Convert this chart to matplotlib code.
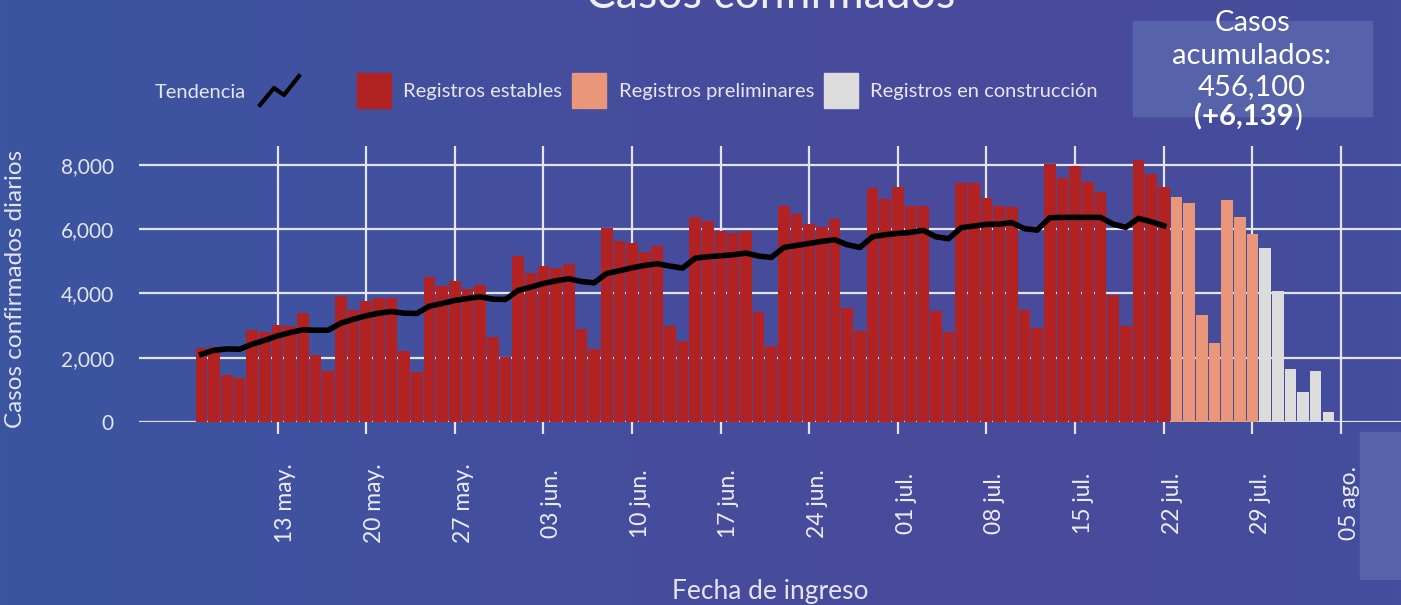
import numpy as np
import pandas as pd
import matplotlib
matplotlib.use("Agg")
import matplotlib.pyplot as plt
import matplotlib.dates as mdates
from matplotlib.patches import Rectangle
from matplotlib.lines import Line2D
from matplotlib.colors import LinearSegmentedColormap
from matplotlib.transforms import ScaledTranslation

plt.rcParams['font.family'] = ['Lato', 'DejaVu Sans']

# daily confirmed cases, by admission date
estables = [2310, 2320, 1455, 1370, 2857, 2795, 3034, 2982, 3377, 2099, 1600, 3927, 3481,
            3761, 3865, 3865, 2213, 1558, 4509, 4239, 4374, 4135, 4249, 2660, 2026,
            5164, 4623, 4852, 4800, 4914, 2888, 2265, 6026, 5631, 5569, 5288, 5475, 2982,
            2514, 6379, 6255, 5943, 5891, 5932, 3439, 2379, 6712, 6473, 6171, 6068, 6317,
            3543, 2826, 7273, 6951,
            7314, 6722, 6712, 3449, 2805, 7429, 7429, 6971, 6712, 6681, 3491, 2930, 8031,
            7605, 7979, 7470, 7158, 3948, 3003, 8166, 7730, 7314]
preliminares = [6992, 6805, 3325, 2462, 6899, 6369, 5849]
construccion = [5403, 4083, 1642, 925, 1600, 322]
tendencia = [2109, 2234, 2275, 2265, 2421, 2545, 2680, 2784, 2868, 2857, 2857, 3075, 3200,
             3304, 3387, 3439, 3387, 3377, 3605, 3688, 3782, 3844, 3896, 3823, 3813,
             4094, 4200, 4312, 4395, 4457, 4374, 4332, 4623, 4706, 4800, 4873, 4925, 4852,
             4790, 5101, 5143, 5174, 5205, 5257, 5164, 5122, 5434, 5496, 5558, 5621, 5673,
             5517, 5434, 5766, 5829,
             5870, 5901, 5964, 5766, 5704, 6047, 6099, 6151, 6161, 6203, 6016, 5974, 6358,
             6369, 6369, 6369, 6369, 6161, 6057, 6338, 6234, 6109]

fechas_est = pd.date_range('2020-05-07', periods=len(estables))
fechas_pre = pd.date_range('2020-07-23', periods=len(preliminares))
fechas_con = pd.date_range('2020-07-30', periods=len(construccion))

tick_fechas = pd.date_range('2020-05-13', '2020-08-05', freq='7D')
tick_labels = ['13 may.', '20 may.', '27 may.', '03 jun.', '10 jun.', '17 jun.', '24 jun.',
               '01 jul.', '08 jul.', '15 jul.', '22 jul.', '29 jul.', '05 ago.']

W, H = 1401, 605
fig = plt.figure(figsize=(W / 100, H / 100), dpi=100)

def px(x, y):
    return x / W, 1 - y / H

# background
bg = fig.add_axes([0, 0, 1, 1], zorder=-10)
cmap = LinearSegmentedColormap.from_list('bg', ['#3b55a1', '#4151a0', '#474c9d', '#4a4a9b', '#434e9e'])
grad = np.linspace(0, 1, 256).reshape(1, -1)
bg.imshow(grad, aspect='auto', cmap=cmap, extent=[0, 1, 0, 1])
bg.axis('off')

ax = fig.add_axes([139 / W, 1 - 422 / H, 1 - 139 / W, 276 / H])
ax.set_facecolor('none')

red = '#b22222'
salmon = '#e9967a'
gris = '#dcdcdc'
ax.bar(fechas_est, estables, width=0.92, color=red, zorder=2)
ax.bar(fechas_pre, preliminares, width=0.92, color=salmon, zorder=2)
ax.bar(fechas_con, construccion, width=0.92, color=gris, zorder=2)
ax.plot(fechas_est, tendencia, color='black', linewidth=4, zorder=3)

x0 = mdates.date2num(pd.Timestamp('2020-05-13'))
ax.set_xlim(x0 - 10.94, x0 + 88.74)
ax.set_ylim(0, 8590)
ax.set_yticks([0, 2000, 4000, 6000, 8000])
ax.set_yticklabels(['0', '2,000', '4,000', '6,000', '8,000'])
ax.set_xticks(tick_fechas)
ax.set_xticklabels(tick_labels, rotation=90, va='center')

for s in ax.spines.values():
    s.set_visible(False)
ax.set_axisbelow(True)
ax.grid(True, color='#e4e4ee', linewidth=1.6)
ax.tick_params(axis='x', colors='#e4e4ee', length=8.6, width=1.6, pad=50,
               labelsize=16.5, labelcolor='#ececf2')
ax.tick_params(axis='y', length=0, pad=18, labelsize=15, labelcolor='#e4e4ee')
for lab in ax.get_xticklabels():
    lab.set_transform(lab.get_transform() + ScaledTranslation(6 / 72, 0, fig.dpi_scale_trans))

ax.set_ylabel('Casos confirmados diarios', fontsize=17.5, color='#e4e4ee', va='center')
ax.yaxis.set_label_coords((16 - 139) / (W - 139), 0.482)
ax.set_xlabel('Fecha de ingreso', fontsize=19, color='#e4e4ee', va='center')
ax.xaxis.set_label_coords((770 - 139) / (W - 139), (422 - 591) / 276)

# title (cut off by the top edge, as in the original)
fig.text(*px(771, 8), 'Casos confirmados', fontsize=32, color='#f0f0f4',
         ha='center', va='baseline')

# legend
fig.text(*px(155, 92), 'Tendencia', fontsize=14.5, color='#e6e6ee', ha='left', va='center')
xs = [260, 274, 284, 299]
ys = [105, 88, 95, 76]
fig.add_artist(Line2D([px(x, 0)[0] for x in xs], [px(0, y)[1] for y in ys],
                      color='black', linewidth=3, transform=fig.transFigure))
items = [(357, red, 403, 'Registros estables'),
         (572, salmon, 619, 'Registros preliminares'),
         (824, gris, 870, 'Registros en construcción')]
for xr, col, xt, txt in items:
    fig.add_artist(Rectangle(px(xr, 108), 34 / W, 35 / H, color=col,
                             transform=fig.transFigure))
    fig.text(*px(xt, 92), txt, fontsize=14.5, color='#e6e6ee', ha='left', va='center')

# cumulative box
fig.add_artist(Rectangle(px(1133, 116), 239 / W, 95 / H, color='#5663ab',
                         transform=fig.transFigure, zorder=0))
fig.text(*px(1252, 23), 'Casos', fontsize=21, color='white', ha='center', va='center')
fig.text(*px(1252, 56), 'acumulados:', fontsize=21, color='white', ha='center', va='center')
fig.text(*px(1252, 87), '456,100', fontsize=21, color='white', ha='center', va='center')
fig.text(*px(1294, 117), '(+6,139', fontsize=21, color='white', fontweight='bold',
         ha='right', va='center')
fig.text(*px(1294, 117), ')', fontsize=21, color='white', ha='left', va='center')

fig.add_artist(Rectangle(px(1360, 579), 41 / W, 147 / H, color='#5663ab',
                         transform=fig.transFigure, zorder=0))

fig.savefig('out.png', dpi=100)
